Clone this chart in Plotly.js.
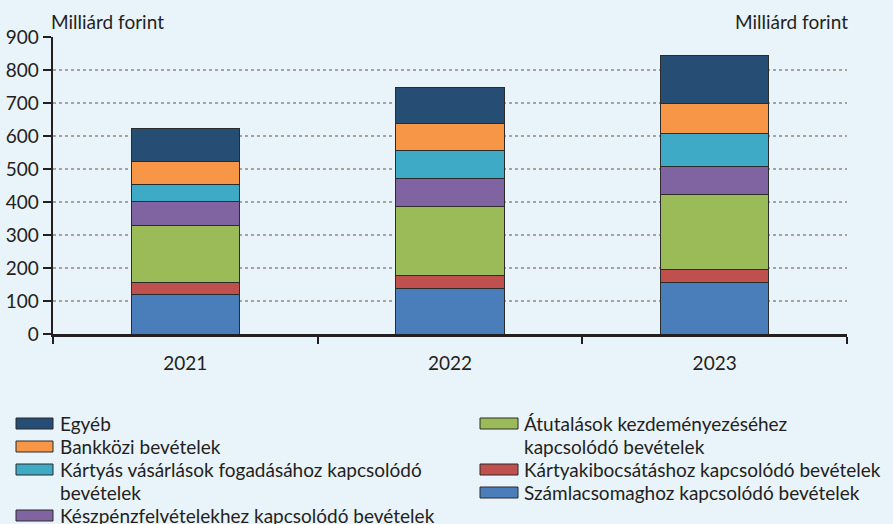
<!DOCTYPE html>
<html><head><meta charset="utf-8">
<script src="https://cdn.plot.ly/plotly-3.0.1.min.js"></script>
<style>html,body{margin:0;padding:0;background:#E9F3FA}</style>
</head><body><div id="chart" style="width:893px;height:524px"></div>
<script>
// ---- data ----
const years = ['2021', '2022', '2023'];
const szamlacsomag = [120, 139, 156];
const kartyakibocsatas = [35, 38, 40];
const atutalas = [173, 210, 227];
const keszpenzfelvetel = [74, 85, 85];
const kartyasVasarlas = [50, 85, 100];
const bankkozi = [72, 81, 92];
const egyeb = [99, 110, 143];
const seriesNames = [
  'Számlacsomaghoz kapcsolódó bevételek',
  'Kártyakibocsátáshoz kapcsolódó bevételek',
  'Átutalások kezdeményezéséhez<br>kapcsolódó bevételek',
  'Készpénzfelvételekhez kapcsolódó bevételek',
  'Kártyás vásárlások fogadásához kapcsolódó<br>bevételek',
  'Bankközi bevételek',
  'Egyéb'
];
const yTickVals = [0, 100, 200, 300, 400, 500, 600, 700, 800, 900];
const unitLabel = 'Milliárd forint';

// ---- styles ----
const seriesValues = [szamlacsomag, kartyakibocsatas, atutalas, keszpenzfelvetel, kartyasVasarlas, bankkozi, egyeb];
const colors = ['#4A7EBB', '#C0504D', '#9BBB59', '#8064A2', '#3EAAC6', '#F79646', '#264D73'];
const FONT = 'Lato, "Open Sans", sans-serif';
const FS = 19;
const TXT = '#231F20';
const W = 893, H = 524, ML = 53, MR = 46, MT = 37, MB = 190;
const PW = W - ML - MR, PH = H - MT - MB;
const px = x => (x - ML) / PW;
const py = y => (H - MB - y) / PH;

const traces = seriesValues.map((vals, i) => ({
  type: 'bar', x: years, y: vals, name: seriesNames[i].replace('<br>', ' '),
  marker: {color: colors[i], line: {color: '#2b2b2b', width: 1}},
  width: 0.41, showlegend: false, hoverinfo: 'skip'
}));

// manual legend: left column (top to bottom) and right column
const leftCol = [6, 5, 4, 3];
const rightCol = [2, 1, 0];
const rowH = 23;
const shapes = [], annotations = [];
function addCol(list, sx0, sx1, tx, y0) {
  let y = y0;
  list.forEach(i => {
    shapes.push({type: 'rect', xref: 'paper', yref: 'paper',
      x0: px(sx0), x1: px(sx1), y0: py(y + 5.5), y1: py(y - 5.5),
      fillcolor: colors[i], line: {color: '#2b2b2b', width: 1}});
    seriesNames[i].split('<br>').forEach(line => {
      annotations.push({xref: 'paper', yref: 'paper', x: px(tx), y: py(y),
        xanchor: 'left', yanchor: 'middle', align: 'left', showarrow: false,
        text: line, font: {family: FONT, size: FS, color: TXT}, borderpad: 0});
      y += rowH;
    });
  });
}
addCol(leftCol, 16, 53, 59, 423.5);
addCol(rightCol, 480, 518, 523, 423.5);

annotations.push({xref: 'paper', yref: 'paper', x: px(49), y: py(21), xanchor: 'left', yanchor: 'middle',
  text: unitLabel, showarrow: false, font: {family: FONT, size: FS, color: TXT}});
annotations.push({xref: 'paper', yref: 'paper', x: px(850), y: py(21), xanchor: 'right', yanchor: 'middle',
  text: unitLabel, showarrow: false, font: {family: FONT, size: FS, color: TXT}});

const yBase = {
  range: [0, 900], tickvals: yTickVals, ticktext: yTickVals.map(String),
  ticks: 'outside', ticklen: 8, tickwidth: 2.5, tickcolor: TXT,
  showline: true, linewidth: 2.5, linecolor: TXT, zeroline: false,
  tickfont: {family: FONT, size: FS, color: TXT}, fixedrange: true
};

const layout = {
  width: W, height: H,
  margin: {l: ML, r: MR, t: MT, b: MB},
  paper_bgcolor: '#E9F3FA', plot_bgcolor: '#E9F3FA',
  barmode: 'stack', bargap: 0.59,
  showlegend: false,
  xaxis: {type: 'category', range: [-0.5, 2.5], tickson: 'boundaries',
    ticks: 'outside', ticklen: 7, tickwidth: 2, tickcolor: TXT,
    showline: true, linewidth: 3, linecolor: TXT, showgrid: false,
    tickfont: {family: FONT, size: FS, color: TXT}, ticklabelstandoff: 10},
  yaxis: Object.assign({}, yBase, {showgrid: true, gridcolor: '#A3A3A3', griddash: 'dot', gridwidth: 1.5}),
  yaxis2: Object.assign({}, yBase, {overlaying: 'y', side: 'right', anchor: 'x', showgrid: false}),
  shapes: shapes, annotations: annotations
};

Plotly.newPlot('chart', traces, layout, {displayModeBar: false, staticPlot: true});
</script></body></html>
